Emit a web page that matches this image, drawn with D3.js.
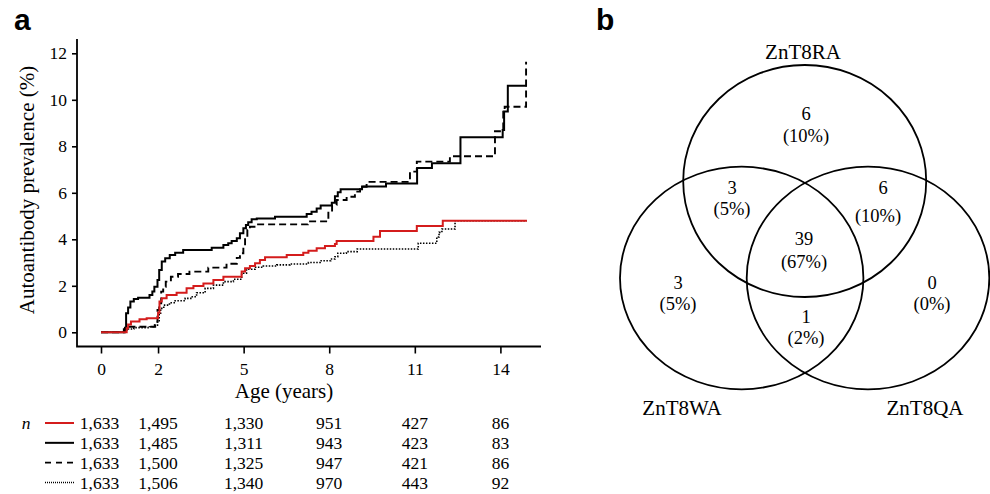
<!DOCTYPE html>
<html>
<head>
<meta charset="utf-8">
<title>ZnT8 autoantibody prevalence</title>
<script src="https://cdn.jsdelivr.net/npm/d3@7"></script>
<style>
  body { margin: 0; background: #fff; }
  svg { display: block; font-family: "Liberation Serif", "Times New Roman", serif; }
  .panel { font-family: "Liberation Sans", Arial, sans-serif; font-weight: bold; font-size: 30px; }
</style>
</head>
<body>
<svg id="fig" width="990" height="494"></svg>
<script>
// ---- data ----
var ageTicks = [0, 2, 5, 8, 11, 14];
var prevTicks = [0, 2, 4, 6, 8, 10, 12];

// step curves: [age (years), prevalence (%)]
var redCurve = [[0,0],[0.9,0.17],[0.95,0.34],[1.05,0.46],[1.35,0.56],[1.6,0.6],[2.0,0.84],[2.05,1.32],[2.13,1.46],
  [2.3,1.6],[2.65,1.7],[3.0,1.89],[3.24,1.99],[3.59,2.1],[3.94,2.25],[4.29,2.39],[4.93,2.61],[5.05,2.75],
  [5.22,2.85],[5.4,2.97],[5.57,3.11],[5.75,3.23],[6.51,3.32],[7.09,3.42],[7.27,3.51],[7.56,3.61],[7.85,3.71],
  [8.2,3.8],[8.26,3.93],[9.55,4.11],[9.78,4.36],[11.07,4.57],[11.98,4.8],[14.93,4.8]];

var solidCurve = [[0,0],[0.84,0.2],[0.88,0.82],[0.95,1.07],[1.03,1.32],[1.15,1.43],[1.3,1.49],[1.7,1.6],[1.8,1.75],
  [1.87,1.96],[1.98,2.25],[2.04,2.68],[2.13,3.04],[2.25,3.18],[2.41,3.32],[2.6,3.42],[2.88,3.54],[3.88,3.64],
  [4.29,3.75],[4.46,3.83],[4.58,3.93],[4.76,4.04],[4.87,4.26],[4.99,4.47],[5.08,4.61],[5.16,4.73],[5.28,4.86],
  [5.46,4.9],[6.1,4.97],[7.21,5.09],[7.38,5.19],[7.56,5.33],[7.7,5.45],[8.09,5.57],[8.2,5.85],[8.3,6.02],
  [8.4,6.15],[9.15,6.27],[9.99,6.4],[11.08,7.07],[11.6,7.27],[12.6,8.39],[14.08,8.7],[14.13,9.5],[14.26,10.6],
  [14.93,10.6]];

var dashedCurve = [[0,0],[0.8,0.13],[0.9,0.24],[1.9,0.31],[1.98,0.96],[2.04,1.25],[2.11,1.75],[2.18,1.96],
  [2.27,2.18],[2.45,2.39],[2.7,2.51],[3.1,2.61],[3.76,2.78],[4.4,2.95],[4.76,3.2],[4.87,3.4],[4.99,3.78],
  [5.05,4.11],[5.13,4.4],[5.22,4.54],[5.46,4.64],[7.25,4.77],[7.97,5.19],[8.1,5.48],[8.26,5.69],[8.61,5.83],
  [8.9,6.05],[9.08,6.26],[9.31,6.47],[10.83,6.91],[11.07,7.34],[12.23,7.57],[13.81,8.65],[14.1,9.49],
  [14.15,9.7],[14.9,11.64]];

var dottedCurve = [[0,0],[0.9,0.14],[1.15,0.2],[1.7,0.24],[1.85,0.31],[1.98,0.46],[2.04,0.82],[2.09,1.03],
  [2.2,1.17],[2.4,1.27],[2.6,1.36],[2.95,1.46],[3.2,1.53],[3.35,1.7],[3.65,1.89],[3.94,2.03],[4.29,2.18],
  [4.64,2.28],[4.93,2.54],[5.1,2.71],[5.4,2.8],[5.69,2.85],[6.16,2.9],[6.62,2.94],[7.27,3.0],[7.68,3.08],
  [8.05,3.15],[8.2,3.25],[8.3,3.4],[8.6,3.47],[8.98,3.58],[11.12,3.83],[11.77,4.1],[11.85,4.3],[11.95,4.44],
  [12.41,4.8],[14.93,4.8]];

// numbers at risk at each age tick
var nRed    = [1633, 1495, 1330, 951, 427, 86];
var nSolid  = [1633, 1485, 1311, 943, 423, 83];
var nDashed = [1633, 1500, 1325, 947, 421, 86];
var nDotted = [1633, 1506, 1340, 970, 443, 92];

// venn
var vennSets = ["ZnT8RA", "ZnT8WA", "ZnT8QA"];
// regions: R only, R&W, R&Q, all, W only, Q only, W&Q
var vennCounts = [6, 3, 6, 39, 3, 0, 1];
var vennPct    = [10, 5, 10, 67, 5, 0, 2];

// ---- layout ----
var svg = d3.select("#fig");
var fmt = d3.format(",");

var x = d3.scaleLinear().domain([0, 14]).range([101, 500.4]);
var y = d3.scaleLinear().domain([0, 12]).range([332.3, 53.3]);

svg.append("text").attr("class", "panel").attr("x", 14).attr("y", 29.5).text("a");
svg.append("text").attr("class", "panel").attr("x", 596).attr("y", 29.5).text("b");

// axes
svg.append("path")
  .attr("d", "M77,39V346.5H541")
  .attr("fill", "none").attr("stroke", "#000").attr("stroke-width", 1.8);

var yAxis = svg.append("g").attr("transform", "translate(77,0)")
  .call(d3.axisLeft(y).tickValues(prevTicks).tickSize(5).tickPadding(5));
yAxis.select(".domain").remove();

var xAxis = svg.append("g").attr("transform", "translate(0,346.5)")
  .call(d3.axisBottom(x).tickValues(ageTicks).tickSize(7).tickPadding(9));
xAxis.select(".domain").remove();

svg.selectAll(".tick line").attr("stroke", "#000").attr("stroke-width", 1.6);
svg.selectAll(".tick text")
  .attr("font-family", "Liberation Serif, Times New Roman, serif")
  .attr("font-size", "17.5px").attr("fill", "#000");

svg.append("text")
  .attr("transform", "translate(34,190) rotate(-90)")
  .attr("text-anchor", "middle").attr("font-size", "21px")
  .text("Autoantibody prevalence (%)");

svg.append("text")
  .attr("x", 284).attr("y", 398)
  .attr("text-anchor", "middle").attr("font-size", "21px")
  .text("Age (years)");

// curves
var series = [
  { curve: solidCurve,  n: nSolid,  stroke: "#000",    width: 2,   dash: null,      legendDash: null },
  { curve: dashedCurve, n: nDashed, stroke: "#000",    width: 1.9, dash: "7,4",     legendDash: "6,5" },
  { curve: dottedCurve, n: nDotted, stroke: "#000",    width: 1.6, dash: "1.5,1.5", legendDash: "1,1" },
  { curve: redCurve,    n: nRed,    stroke: "#d41c1c", width: 2,   dash: null,      legendDash: null }
];

var line = d3.line()
  .x(function (d) { return x(d[0]); })
  .y(function (d) { return y(d[1]); })
  .curve(d3.curveStepAfter);

svg.append("g").selectAll("path")
  .data(series).enter().append("path")
  .attr("d", function (d) { return line(d.curve); })
  .attr("fill", "none")
  .attr("stroke", function (d) { return d.stroke; })
  .attr("stroke-width", function (d) { return d.width; })
  .attr("stroke-dasharray", function (d) { return d.dash; });

// numbers at risk table (rows in the figure's order)
var tableRows = [series[3], series[0], series[1], series[2]];
var rowY = d3.scalePoint().domain(d3.range(tableRows.length)).range([423, 482.5]);

svg.append("text")
  .attr("x", 26).attr("y", rowY(0) + 6)
  .attr("text-anchor", "middle").attr("font-style", "italic").attr("font-size", "17.5px")
  .text("n");

var rows = svg.append("g").selectAll("g")
  .data(tableRows).enter().append("g")
  .attr("transform", function (d, i) { return "translate(0," + rowY(i) + ")"; });

rows.append("line")
  .attr("x1", 45).attr("x2", 74).attr("y1", 0).attr("y2", 0)
  .attr("stroke", function (d) { return d.stroke; })
  .attr("stroke-width", function (d) { return d.width; })
  .attr("stroke-dasharray", function (d) { return d.legendDash; });

rows.selectAll("text")
  .data(function (d) { return d.n; })
  .enter().append("text")
  .attr("x", function (d, i) { return x(ageTicks[i]) - (i === 0 ? 1.5 : 0); })
  .attr("y", 6)
  .attr("text-anchor", "middle").attr("font-size", "17.5px")
  .text(function (d) { return fmt(d); });

// ---- venn ----
var circles = [
  { cx: 804.7, cy: 181, rx: 121.5, ry: 116 },
  { cx: 741.7, cy: 278, rx: 121.7, ry: 111.3 },
  { cx: 868,   cy: 278, rx: 121.3, ry: 111.3 }
];
svg.append("g").selectAll("ellipse")
  .data(circles).enter().append("ellipse")
  .attr("cx", function (d) { return d.cx; })
  .attr("cy", function (d) { return d.cy; })
  .attr("rx", function (d) { return d.rx; })
  .attr("ry", function (d) { return d.ry; })
  .attr("fill", "none").attr("stroke", "#000").attr("stroke-width", 1.8);

var setLabelPos = [[803, 59], [682, 414.5], [925, 414.5]];
svg.append("g").selectAll("text")
  .data(vennSets).enter().append("text")
  .attr("x", function (d, i) { return setLabelPos[i][0]; })
  .attr("y", function (d, i) { return setLabelPos[i][1]; })
  .attr("text-anchor", "middle").attr("font-size", "21px")
  .text(function (d) { return d; });

// [x count, y count, x pct, y pct]
var regionPos = [
  [806, 119.5, 806, 141.5],
  [732, 194, 732, 215],
  [883, 194, 878, 222],
  [804, 244.5, 804, 268],
  [678, 289, 678, 310],
  [932, 289, 932, 310],
  [806, 323, 806, 344]
];
var regions = svg.append("g").selectAll("g")
  .data(vennCounts).enter().append("g");
regions.append("text")
  .attr("x", function (d, i) { return regionPos[i][0]; })
  .attr("y", function (d, i) { return regionPos[i][1]; })
  .attr("text-anchor", "middle").attr("font-size", "18.5px")
  .text(function (d) { return d; });
regions.append("text")
  .attr("x", function (d, i) { return regionPos[i][2]; })
  .attr("y", function (d, i) { return regionPos[i][3]; })
  .attr("text-anchor", "middle").attr("font-size", "18.5px")
  .text(function (d, i) { return "(" + vennPct[i] + "%)"; });
</script>
</body>
</html>
